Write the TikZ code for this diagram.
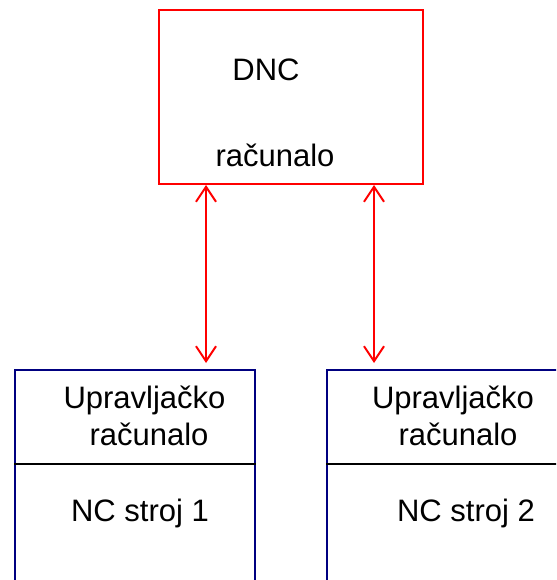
\documentclass[tikz,border=0pt]{standalone}
\usepackage{fontspec}
\setmainfont{Liberation Sans}
\usetikzlibrary{arrows.meta,calc}
\definecolor{navyblue}{RGB}{0,0,128}
\begin{document}
\begin{tikzpicture}[x=1pt,y=-1pt,
  redbox/.style={draw=red,line width=2pt,inner sep=0pt,anchor=north west},
  bluebox/.style={draw=navyblue,line width=2pt,inner sep=0pt,anchor=north west,minimum width=240pt,minimum height=231pt},
  lbl/.style={anchor=base,inner sep=0pt,font=\fontsize{31}{37}\selectfont},
  link/.style={draw=red,line width=2pt,{Straight Barb[length=15pt,width=20pt]}-{Straight Barb[length=15pt,width=20pt]}},
  divider/.style={draw=black,line width=2pt}]
\useasboundingbox (0,0) rectangle (556,580);
\clip (0,0) rectangle (556,580);
\node[redbox,minimum width=264pt,minimum height=174pt] (dnc) at (158,9) {};
\node[lbl] (t1) at (266,81) {DNC};
\node[lbl] (t2) at (275,167) {računalo};
\node[bluebox] (lbox) at (14,369) {};
\node[bluebox] (rbox) at (326,369) {};
\coordinate (dl) at (0,464);
\draw[divider] (lbox.west |- dl) -- (lbox.east |- dl);
\draw[divider] (rbox.west |- dl) -- (rbox.east |- dl);
\node[lbl] (l1) at (144.5,408) {Upravljačko};
\node[lbl] (l2) at (149,445) {računalo};
\node[lbl] (l3) at (140,521) {NC stroj 1};
\node[lbl] (r1) at (453,408) {Upravljačko};
\node[lbl] (r2) at (458,445) {računalo};
\node[lbl] (r3) at (466,521) {NC stroj 2};
\coordinate (a1) at (206,363);
\coordinate (a2) at (374,363);
\draw[link] (dnc.south -| a1) -- (a1);
\draw[link] (dnc.south -| a2) -- (a2);
\end{tikzpicture}
\end{document}
